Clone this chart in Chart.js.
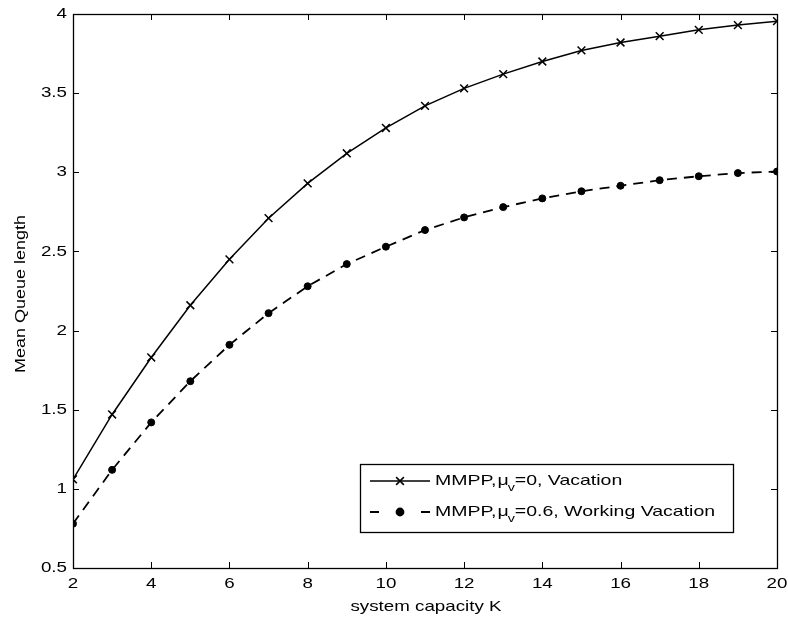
<!DOCTYPE html>
<html>
<head>
<meta charset="utf-8">
<script src="https://cdn.jsdelivr.net/npm/chart.js@4/dist/chart.umd.min.js"></script>
<style>
  html, body { margin: 0; padding: 0; background: #fff; }
  #wrap { width: 788px; height: 619px; }
</style>
</head>
<body>
<div id="wrap"><canvas id="c" width="788" height="619"></canvas></div>
<script>
// capacite du systeme K
const capacity = [2, 3, 4, 5, 6, 7, 8, 9, 10, 11, 12, 13, 14, 15, 16, 17, 18, 19, 20];
// longueur moyenne de file, vacances simples (mu_v = 0)
const vacation = [1.06, 1.47, 1.83, 2.16, 2.45, 2.71, 2.93, 3.12, 3.28, 3.42, 3.53, 3.62, 3.70, 3.77, 3.82, 3.86, 3.90, 3.93, 3.955];
// longueur moyenne de file, vacances actives (mu_v = 0.6)
const workingVacation = [0.78, 1.12, 1.42, 1.68, 1.91, 2.11, 2.28, 2.42, 2.53, 2.635, 2.715, 2.78, 2.835, 2.88, 2.915, 2.95, 2.975, 2.995, 3.005];
const xTicks = [2, 4, 6, 8, 10, 12, 14, 16, 18, 20];
const yTicks = [0.5, 1, 1.5, 2, 2.5, 3, 3.5, 4];
const xTitle = "system capacity K";
const yTitle = "Mean Queue length";
const legendLabels = [
  ["MMPP,", "\u03bc", "v", "=0, Vacation"],
  ["MMPP,", "\u03bc", "v", "=0.6, Working Vacation"]
];

const FONT = "Liberation Sans, Arial, Helvetica, sans-serif";
const SX = 1.25; // le texte de l'export matlab est etire en largeur

// ecrit un texte etire horizontalement, renvoie sa largeur
function wideText(ctx, text, x, y, align, sx) {
  const w = ctx.measureText(text).width * sx;
  const x0 = align === "center" ? x - w / 2 : align === "right" ? x - w : x;
  ctx.save();
  ctx.translate(x0, y);
  ctx.scale(sx, 1);
  ctx.textAlign = "left";
  ctx.fillText(text, 0, 0);
  ctx.restore();
  return w;
}

// cadre + graduations vers l'interieur, facon matlab, et textes des axes
const boxTicks = {
  id: "boxTicks",
  afterDatasetsDraw(chart) {
    const { ctx, chartArea: a, scales } = chart;
    ctx.save();
    ctx.strokeStyle = "#000";
    ctx.lineWidth = 1;
    ctx.beginPath();
    xTicks.forEach(v => {
      const x = Math.round(scales.x.getPixelForValue(v)) + 0.5;
      ctx.moveTo(x, a.bottom); ctx.lineTo(x, a.bottom - 6);
      ctx.moveTo(x, a.top); ctx.lineTo(x, a.top + 6);
    });
    yTicks.forEach(v => {
      const y = Math.round(scales.y.getPixelForValue(v)) + 0.5;
      ctx.moveTo(a.left, y); ctx.lineTo(a.left + 6, y);
      ctx.moveTo(a.right, y); ctx.lineTo(a.right - 6, y);
    });
    ctx.stroke();
    ctx.lineWidth = 1.3;
    ctx.strokeRect(Math.round(a.left) + 0.5, Math.round(a.top) + 0.5,
      Math.round(a.right - a.left), Math.round(a.bottom - a.top));

    ctx.fillStyle = "#000";
    ctx.textBaseline = "middle";
    ctx.font = "15px " + FONT;
    xTicks.forEach(v => wideText(ctx, String(v), scales.x.getPixelForValue(v), 584, "center", SX));
    yTicks.forEach(v => wideText(ctx, String(v), 67, scales.y.getPixelForValue(v), "right", SX));

    // titres des axes
    wideText(ctx, xTitle, (a.left + a.right) / 2 + 1, 607, "center", SX);
    ctx.translate(21, (a.top + a.bottom) / 2 + 3);
    ctx.rotate(-Math.PI / 2);
    wideText(ctx, yTitle, 0, 0, "center", 1.2);
    ctx.restore();
  }
};

// legende dans le graphique avec indice pour mu
const innerLegend = {
  id: "innerLegend",
  afterDraw(chart) {
    const ctx = chart.ctx;
    const box = { l: 360.5, t: 464.5, r: 733.5, b: 532.5 };
    ctx.save();
    ctx.fillStyle = "#fff";
    ctx.fillRect(box.l, box.t, box.r - box.l, box.b - box.t);
    ctx.strokeStyle = "#000";
    ctx.lineWidth = 1.3;
    ctx.strokeRect(box.l, box.t, box.r - box.l, box.b - box.t);
    const rows = [481, 512];
    chart.data.datasets.forEach((ds, i) => {
      const y = rows[i];
      ctx.strokeStyle = "#000";
      ctx.lineWidth = ds.borderWidth;
      // en legende : tiret, point, tiret
      ctx.setLineDash(ds.borderDash ? [9, 42] : []);
      ctx.beginPath();
      ctx.moveTo(370, y); ctx.lineTo(430, y);
      ctx.stroke();
      ctx.setLineDash([]);
      Chart.helpers.drawPoint(ctx, {
        pointStyle: ds.pointStyle, radius: ds.pointRadius,
        borderWidth: ds.pointBorderWidth
      }, 400, y);
      const parts = legendLabels[i];
      ctx.fillStyle = "#000";
      ctx.textBaseline = "middle";
      ctx.font = "15px " + FONT;
      let x = 435;
      x += wideText(ctx, parts[0], x, y, "left", 1.3) + 1;
      x += wideText(ctx, parts[1], x, y, "left", 1.3) - 1;
      ctx.font = "11px " + FONT;
      x += wideText(ctx, parts[2], x, y + 7, "left", 1.3);
      ctx.font = "15px " + FONT;
      wideText(ctx, parts[3], x, y, "left", 1.3);
    });
    ctx.restore();
  }
};

new Chart(document.getElementById("c").getContext("2d"), {
  type: "line",
  data: {
    datasets: [
      {
        label: "vacation",
        data: capacity.map((k, i) => ({ x: k, y: vacation[i] })),
        borderColor: "#000",
        backgroundColor: "#000",
        borderWidth: 1.5,
        pointStyle: "crossRot",
        pointRadius: 5.5,
        pointBorderWidth: 1.5,
        pointBorderColor: "#000",
        tension: 0,
        fill: false
      },
      {
        label: "working vacation",
        data: capacity.map((k, i) => ({ x: k, y: workingVacation[i] })),
        borderColor: "#000",
        backgroundColor: "#000",
        borderWidth: 1.8,
        borderDash: [10, 7],
        pointStyle: "circle",
        pointRadius: 3.5,
        pointBorderWidth: 1,
        pointBorderColor: "#000",
        pointBackgroundColor: "#000",
        tension: 0,
        fill: false
      }
    ]
  },
  options: {
    responsive: false,
    animation: false,
    devicePixelRatio: 1,
    layout: { padding: { top: 14, right: 11, bottom: 0, left: 0 } },
    plugins: {
      legend: { display: false },
      tooltip: { enabled: false }
    },
    scales: {
      x: {
        type: "linear",
        min: 2, max: 20,
        afterBuildTicks: s => { s.ticks = xTicks.map(v => ({ value: v })); },
        afterFit: s => { s.height = 51; s.paddingLeft = 0; s.paddingRight = 0; },
        grid: { display: false, drawTicks: false },
        border: { display: false },
        ticks: { display: false }
      },
      y: {
        type: "linear",
        min: 0.5, max: 4,
        afterBuildTicks: s => { s.ticks = yTicks.map(v => ({ value: v })); },
        afterFit: s => { s.width = 73; s.paddingTop = 0; s.paddingBottom = 0; },
        grid: { display: false, drawTicks: false },
        border: { display: false },
        ticks: { display: false }
      }
    }
  },
  plugins: [boxTicks, innerLegend]
});
</script>
</body>
</html>
